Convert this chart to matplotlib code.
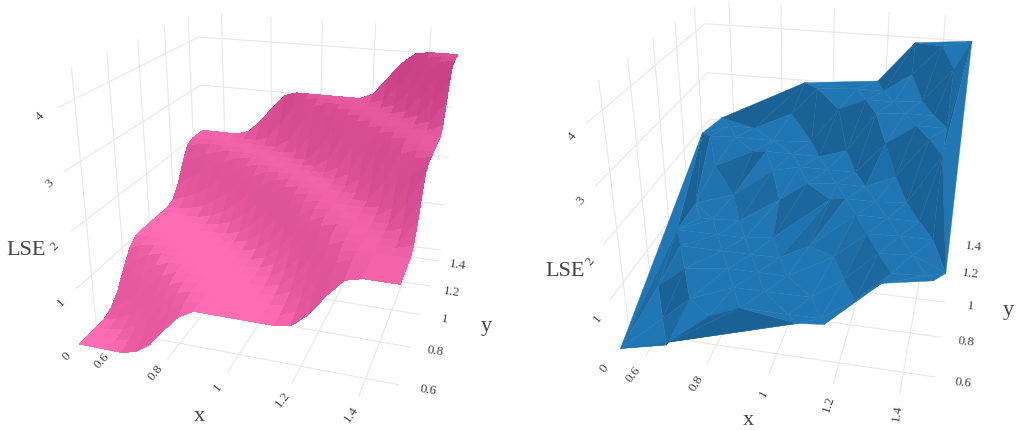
import numpy as np
import matplotlib
matplotlib.use('Agg')
import matplotlib.pyplot as plt
import matplotlib.tri as mtri
from mpl_toolkits.mplot3d import proj3d

# ---------- data ----------
grid_x = [0.5, 0.55, 0.6, 0.65, 0.7, 0.75, 0.8, 0.85, 0.9, 0.95, 1.0,
          1.05, 1.1, 1.15, 1.2, 1.25, 1.3, 1.35, 1.4, 1.45, 1.5]
grid_y = list(grid_x)
left_lse = [
    [0,0,0,0,0.07,0.26,0.57,0.85,1,1,1,1,1,1,1.05,1.28,1.64,1.93,2,2,2],
    [0,0,0,0.06,0.21,0.46,0.76,0.96,1,1,1,1,1,1.01,1.13,1.43,1.77,1.97,2,2,2],
    [0,0,0.05,0.18,0.4,0.7,0.93,1,1,1,1,1,1,1.05,1.25,1.59,1.88,2,2,2,2],
    [0,0.06,0.18,0.37,0.66,0.89,1,1,1,1,1,1,1.01,1.13,1.42,1.75,1.96,2,2,2,2],
    [0.07,0.21,0.4,0.66,0.87,0.99,1,1,1,1,1,1,1.06,1.28,1.61,1.89,2,2,2,2,2.08],
    [0.26,0.46,0.7,0.89,0.99,1,1,1,1,1,1,1.04,1.19,1.48,1.79,1.97,2,2,2,2,2.33],
    [0.57,0.76,0.93,1,1,1,1,1,1,1,1.02,1.13,1.38,1.71,1.94,2,2,2,2,2.08,2.63],
    [0.85,0.96,1,1,1,1,1,1,1,1.01,1.08,1.31,1.62,1.87,2,2,2,2,2,2.38,2.92],
    [1,1,1,1,1,1,1,1,1,1.07,1.27,1.56,1.82,1.98,2,2,2,2,2.16,2.72,3],
    [1,1,1,1,1,1,1,1.01,1.07,1.26,1.53,1.79,1.96,2,2,2,2,2.05,2.53,2.95,3],
    [1,1,1,1,1,1,1.02,1.08,1.27,1.53,1.78,1.95,2,2,2,2,2,2.37,2.9,3,3],
    [1,1,1,1,1,1.04,1.13,1.31,1.56,1.79,1.95,2,2,2,2,2,2.25,2.77,3,3,3],
    [1,1,1,1.01,1.06,1.19,1.38,1.62,1.82,1.96,2,2,2,2,2,2.17,2.67,2.98,3,3,3],
    [1,1.01,1.05,1.13,1.28,1.48,1.71,1.87,1.98,2,2,2,2,2,2.13,2.62,2.96,3,3,3,3],
    [1.05,1.13,1.25,1.42,1.61,1.79,1.94,2,2,2,2,2,2,2.13,2.59,2.95,3,3,3,3,3.11],
    [1.28,1.43,1.59,1.75,1.89,1.97,2,2,2,2,2,2,2.17,2.62,2.95,3,3,3,3,3.08,3.43],
    [1.64,1.77,1.88,1.96,2,2,2,2,2,2,2,2.25,2.67,2.96,3,3,3,3,3.07,3.37,3.75],
    [1.93,1.97,2,2,2,2,2,2,2,2.05,2.37,2.77,2.98,3,3,3,3,3.06,3.35,3.71,3.96],
    [2,2,2,2,2,2,2,2,2.16,2.53,2.9,3,3,3,3,3,3.07,3.35,3.7,3.95,4],
    [2,2,2,2,2,2,2.08,2.38,2.72,2.95,3,3,3,3,3,3.08,3.37,3.71,3.95,4,4],
    [2,2,2,2,2.08,2.33,2.63,2.92,3,3,3,3,3,3,3.11,3.43,3.75,3.96,4,4,4],
]
right_x = [0.51,0.67,1.09,1.17,1.33,1.47,1.5,1.5,1.3,1.17,0.89,0.55,0.5,
           0.65,0.8,0.9,1.05,1.15,1.25,1.35,1.45,
           0.6,0.7,0.85,0.95,1.1,1.2,1.3,1.4,
           0.55,0.65,0.8,0.9,1.0,1.15,1.25,1.35,1.45,
           0.6,0.75,0.85,0.95,1.05,1.2,1.3,1.4,
           0.55,0.7,0.8,0.9,1.1,1.15,1.25,1.35,1.45,
           0.6,0.65,0.75,0.9,1.0,1.1,1.2,1.3,1.4,
           0.55,0.7,0.85,0.95,1.05,1.15,1.25,1.35,1.45,
           0.6,0.75,0.8,0.9,1.0,1.1,1.2,1.3,1.4,
           0.55,0.65,0.8,0.95,1.05,1.15,1.25,1.35,1.45,
           0.6,0.7,0.85,0.95,1.1,1.2,1.3,1.4]
right_y = [0.51,0.52,0.5,0.5,0.5,0.5,0.56,1.5,1.5,1.5,1.5,1.5,1.4,
           0.55,0.55,0.55,0.55,0.55,0.55,0.55,0.55,
           0.65,0.65,0.65,0.65,0.65,0.65,0.65,0.65,
           0.75,0.75,0.75,0.75,0.75,0.75,0.75,0.75,0.75,
           0.85,0.85,0.85,0.85,0.85,0.85,0.85,0.85,
           0.95,0.95,0.95,0.95,0.95,0.95,0.95,0.95,0.95,
           1.05,1.05,1.05,1.05,1.05,1.05,1.05,1.05,1.05,
           1.15,1.15,1.15,1.15,1.15,1.15,1.15,1.15,1.15,
           1.25,1.25,1.25,1.25,1.25,1.25,1.25,1.25,1.25,
           1.35,1.35,1.35,1.35,1.35,1.35,1.35,1.35,1.35,
           1.45,1.45,1.45,1.45,1.45,1.45,1.45,1.45]
right_lse = [0.02,0.25,1.05,1.1,1.95,2.1,2.05,4,3.9,3.1,2.95,2.05,1.9,
             0.06,0.76,1,1,1.01,1.43,1.97,2,
             0.18,0.66,1,1,1.01,1.42,1.96,2,
             0.46,0.89,1,1,1,1.48,1.97,2,2,
             1,1,1,1.01,1.31,2,2,2,
             1,1,1,1.07,1.96,2,2,2.05,2.95,
             1,1,1.04,1.56,1.95,2,2,2.25,3,
             1.01,1.28,1.87,2,2,2,2.62,3,3,
             1.59,1.97,2,2,2,2.17,2.95,3,3,
             1.97,2,2,2.05,2.77,3,3,3.06,3.71,
             2,2,2.38,2.95,3,3,3.37,3.95]
x_ticks = [0.6, 0.8, 1, 1.2, 1.4]
y_ticks = [0.6, 0.8, 1, 1.2, 1.4]
z_ticks = [0, 1, 2, 3, 4]
tick_text = {0: '0', 0.6: '0.6', 0.8: '0.8', 1: '1', 1.2: '1.2', 1.4: '1.4', 2: '2', 3: '3', 4: '4'}

W, H = 1018, 431
SERIF = 'Liberation Serif'
GRID = '#e8e8e8'
TXT = '#444444'

fig = plt.figure(figsize=(W / 100, H / 100), dpi=100)
fig.patch.set_facecolor('white')


def make_axes(view, lims):
    elev, azim, lz, by, bz, s, tx, ty = view
    ax = fig.add_axes([0, 0, 1, 1], projection='3d', computed_zorder=False)
    ax.set_proj_type('persp', focal_length=1)
    ax.view_init(elev=elev, azim=azim)
    ax.set_box_aspect((1, by, bz), zoom=np.exp(lz))
    ax.set_xlim(lims[0], lims[1])
    ax.set_ylim(lims[2], lims[3])
    ax.set_zlim(lims[4], lims[5])
    vl = ax.viewLim
    ax.set_position([(tx + s * vl.x0) / W, 1 - (ty - s * vl.y0) / H,
                     s * vl.width / W, s * vl.height / H])
    ax.patch.set_alpha(0)
    ax.set_xticks(x_ticks); ax.set_yticks(y_ticks); ax.set_zticks(z_ticks)
    ax.set_xticklabels([]); ax.set_yticklabels([]); ax.set_zticklabels([])
    for a in (ax.xaxis, ax.yaxis, ax.zaxis):
        a.set_pane_color((1, 1, 1, 0))
        a.pane.set_edgecolor((1, 1, 1, 0))
        a._axinfo['grid'].update(color=GRID, linewidth=0.8)
        a._axinfo['tick'].update(inward_factor=0, outward_factor=0)
        a._axinfo['axisline']['color'] = (1, 1, 1, 0)
        a.line.set_color((1, 1, 1, 0))
    return ax


def put(ax, x, y, z, s, off, rot):
    u, v, _ = proj3d.proj_transform(x, y, z, ax.get_proj())
    ax.annotate(s, xy=(u, v), xycoords='data', xytext=off, textcoords='offset pixels',
                rotation=rot, family=SERIF, fontsize=9.5, color=TXT,
                ha='center', va='center', annotation_clip=False)


def labels(ax, lims, xoff, yoff, zoff, rx, ry, rz, titles):
    x0, x1, y0, y1, z0 = lims[:5]
    for t, o, r in zip(x_ticks, xoff, rx):
        put(ax, t, y0, z0, tick_text[t], o, r)
    for t, o, r in zip(y_ticks, yoff, ry):
        put(ax, x1, t, z0, tick_text[t], o, r)
    for t, o, r in zip(z_ticks, zoff, rz):
        put(ax, x0, y0, t, tick_text[t], o, r)
    for (s, px, py) in titles:
        fig.text(px / W, 1 - py / H, s, family=SERIF, fontsize=16, color=TXT,
                 ha='center', va='center')


def soften(a):
    p = np.pad(a, 1, mode='edge')
    s = sum(p[1 + i:p.shape[0] - 1 + i, 1 + j:p.shape[1] - 1 + j]
            for i in (-1, 0, 1) for j in (-1, 0, 1))
    return 0.325 * a + 0.675 * s / 9


# ---------- left panel ----------
L_LIMS = (0.5024, 1.4988, 0.5095, 1.4907, 0.0224, 4.4916)
axl = make_axes((21.6703, -71.9180, 1.1625, 1.0090, 0.8726, 815.6448, 280.2006, 178.4667), L_LIMS)
X, Y = np.meshgrid(grid_x, grid_y)
Z = np.array(left_lse, float)
zc = 0.25 * (Z[:-1, :-1] + Z[1:, :-1] + Z[:-1, 1:] + Z[1:, 1:])
gx = 0.5 * (Z[:-1, 1:] - Z[:-1, :-1] + Z[1:, 1:] - Z[1:, :-1]) / 0.05
gy = 0.5 * (Z[1:, :-1] - Z[:-1, :-1] + Z[1:, 1:] - Z[:-1, 1:]) / 0.05
steep = soften(np.clip((np.hypot(gx, gy) - 1.5) / 1.5, 0, 1))
t = np.interp(soften(zc), [0, 1, 2, 3, 4], [0, 0, 0.2, 0.35, 0.5]) + 0.38 * steep
light = np.array([255, 110, 180]) / 255
dark = np.array([190, 55, 125]) / 255
fc_left = np.clip(light + (dark - light) * t[..., None], 0, 1)
axl.plot([L_LIMS[0], L_LIMS[1]], [L_LIMS[3], L_LIMS[3]], [L_LIMS[4], L_LIMS[4]],
         color='#666666', lw=0.8, zorder=1)
surf = axl.plot_surface(X, Y, Z, facecolors=fc_left, shade=False, rstride=1, cstride=1,
                        linewidth=0, antialiased=False, zorder=3)
surf.set_clip_on(False)
labels(axl, L_LIMS,
       [(-7, -13), (-11, -14), (-10, -16), (-9, -16), (-8, -18)],
       [(29, -6), (24, -4), (23, -5), (21, -6), (19, -4)],
       [(-15, -13), (-15, -13), (-15, -13), (-14, -11), (-17, -8)],
       [48, 50, 50, 52, 55], [-8, -8, -8, -8, -8], [45, 45, 45, 45, 45],
       [('x', 199, 417), ('y', 486, 327), ('LSE', 26, 251)])

# ---------- right panel ----------
R_LIMS = (0.5, 1.5, 0.5, 1.5, 0.0, 4.4574)
axr = make_axes((26.7331, -77.2933, 1.1674, 0.9884, 0.8737, 808.7447, 804.3612, 176.3150), R_LIMS)
tri = mtri.Triangulation(right_x, right_y)
rx = np.array(right_x); ry = np.array(right_y); rz = np.array(right_lse)
tt = tri.get_masked_triangles()
p0, p1, p2 = [np.c_[rx[tt[:, k]], ry[tt[:, k]], rz[tt[:, k]]] for k in range(3)]
nrm = np.cross(p1 - p0, p2 - p0)
grad = np.hypot(nrm[:, 0], nrm[:, 1]) / np.maximum(np.abs(nrm[:, 2]), 1e-9)
st = np.clip((grad - 5.0) / 1.5, 0, 1)[:, None]
blue = np.array([32, 119, 180]) / 255
blue_d = np.array([26, 98, 150]) / 255
fc_right = np.c_[blue + (blue_d - blue) * st, np.ones(len(st))]
tr = axr.plot_trisurf(tri, rz, color='#2077b4', shade=False, linewidth=0.3, antialiased=True, zorder=3)
tr.set_facecolors(fc_right)
tr.set_edgecolors(fc_right)
tr.set_clip_on(False)
labels(axr, R_LIMS,
       [(-13, -18), (-10, -18), (-5, -18), (-5, -19), (-2, -18)],
       [(27, -5), (25, -4), (25, -3), (22, -2), (21, -2)],
       [(-12, -17), (-12, -17), (-12, -15), (-14, -13), (-14, -12)],
       [52, 58, 62, 72, 80], [-6, -6, -6, -6, -6], [52, 52, 52, 52, 52],
       [('x', 748, 421), ('y', 1008, 310), ('LSE', 565, 272)])

fig.savefig('out.png', dpi=100)
